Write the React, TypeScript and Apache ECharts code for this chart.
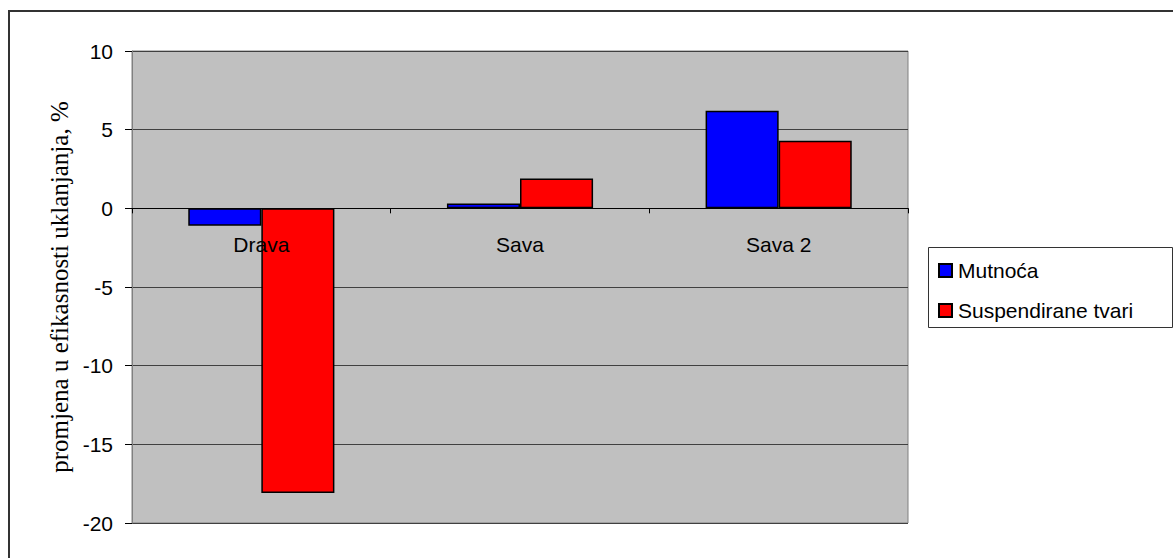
import React, { useEffect, useRef } from "react";
import * as echarts from "echarts";

const categories = ["Drava", "Sava", "Sava 2"];
const mutnocaValues = [-1.1, 0.3, 6.2];
const suspendiraneValues = [-18.1, 1.9, 4.3];
const seriesNames = ["Mutnoća", "Suspendirane tvari"];
const yAxisName = "promjena u efikasnosti uklanjanja, %";
const yMin = -20;
const yMax = 10;
const yInterval = 5;

export default function App() {
  const ref = useRef<HTMLDivElement>(null);
  useEffect(() => {
    if (!ref.current) return;
    const chart = echarts.init(ref.current, null, { renderer: "svg" });
    const sans = "'Liberation Sans', Arial, sans-serif";
    const gridHeight = 472;
    const zeroOffset = -gridHeight * (0 - yMin) / (yMax - yMin);
    chart.setOption({
      animation: false,
      backgroundColor: "#ffffff",
      textStyle: { fontFamily: sans },
      graphic: [
        {
          type: "rect",
          z: -10,
          shape: { x: 9, y: 11, width: 1300, height: 700 },
          style: { fill: "none", stroke: "#333333", lineWidth: 2 },
        },
        {
          type: "rect",
          z: -5,
          shape: { x: 928.5, y: 247.5, width: 244, height: 80 },
          style: { fill: "#ffffff", stroke: "#333333", lineWidth: 1 },
        },
      ],
      grid: {
        left: 132,
        top: 51,
        width: 776,
        height: gridHeight,
        show: true,
        backgroundColor: "#c0c0c0",
        borderColor: "#808080",
        borderWidth: 1,
        outerBoundsMode: "none",
        containLabel: false,
      },
      legend: {
        orient: "vertical",
        left: 929,
        top: 248,
        padding: [12, 10, 8, 9],
        itemGap: 19,
        itemWidth: 13,
        itemHeight: 13,
        icon: "rect",
        textStyle: { fontFamily: sans, fontSize: 21, color: "#000000", padding: [0, 0, 0, 1] },
        data: seriesNames,
      },
      xAxis: {
        type: "category",
        data: categories,
        z: 5,
        position: "bottom",
        offset: zeroOffset,
        axisLine: { onZero: false, lineStyle: { color: "#000000", width: 1 } },
        axisTick: { show: true, length: 5, inside: false, lineStyle: { color: "#000000" } },
        axisLabel: { color: "#000000", fontSize: 21, fontFamily: sans, margin: 26 },
        splitLine: { show: false },
      },
      yAxis: {
        type: "value",
        min: yMin,
        max: yMax,
        interval: yInterval,
        name: yAxisName,
        nameLocation: "middle",
        nameGap: 59,
        nameRotate: 90,
        nameTextStyle: {
          fontFamily: "'Liberation Serif', 'Times New Roman', serif",
          fontSize: 25,
          color: "#000000",
        },
        axisLine: { show: true, lineStyle: { color: "#808080", width: 1 } },
        axisTick: { show: true, length: 7, lineStyle: { color: "#000000" } },
        axisLabel: { color: "#000000", fontSize: 21, fontFamily: sans, margin: 19 },
        splitLine: { show: true, lineStyle: { color: "#404040", width: 1 } },
      },
      series: [
        {
          name: seriesNames[0],
          type: "bar",
          data: mutnocaValues,
          barGap: "0%",
          barCategoryGap: "43.5%",
          itemStyle: { color: "#0000ff", borderColor: "#000000", borderWidth: 1.5 },
        },
        {
          name: seriesNames[1],
          type: "bar",
          data: suspendiraneValues,
          barGap: "0%",
          barCategoryGap: "43.5%",
          itemStyle: { color: "#ff0000", borderColor: "#000000", borderWidth: 1.5 },
        },
      ],
    });
    return () => chart.dispose();
  }, []);
  return (
    <div
      ref={ref}
      style={{ position: "fixed", left: 0, top: 0, width: 1173, height: 558 }}
    />
  );
}
